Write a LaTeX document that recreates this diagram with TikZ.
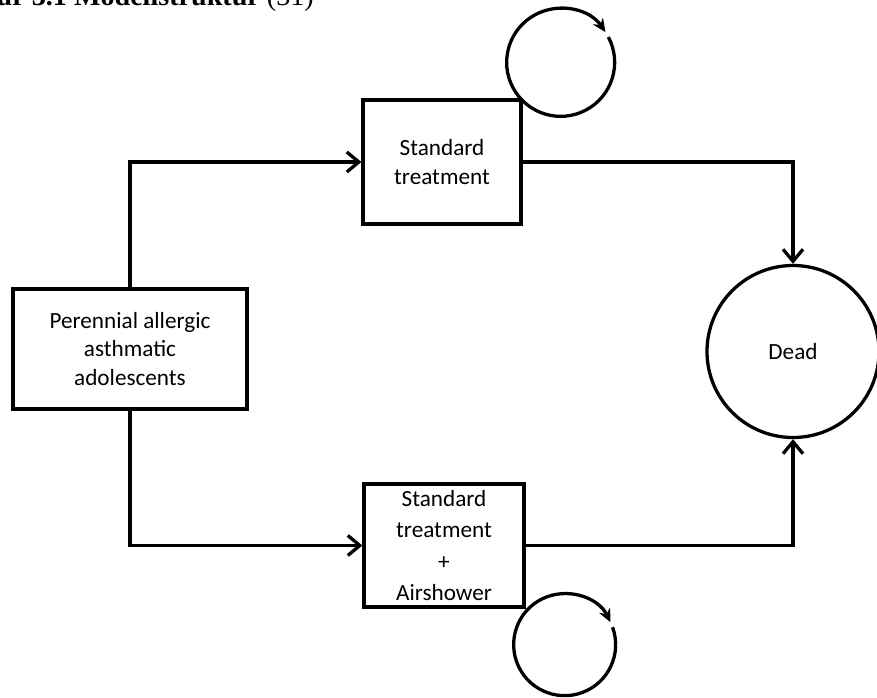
\documentclass[tikz,border=0pt]{standalone}
\usepackage{fontspec}
\setmainfont{Carlito}
\newfontfamily\capfont{Liberation Serif}
\usetikzlibrary{arrows.meta}

\begin{document}
\begin{tikzpicture}[x=0.03cm,y=0.03cm,
    state/.style={draw,line width=2.8pt,align=center,inner sep=0pt,
      font=\fontsize{19.8}{24}\selectfont},
    flow/.style={line width=2.8pt,-{Straight Barb[length=0.36cm,width=0.6cm]}},
    selfloop/.style={line width=2.8pt,-{Stealth[length=0.4cm,width=0.36cm]}}]
    \path[use as bounding box] (0,0) rectangle (877,697);
    \clip (0,0) rectangle (877,697);
%
    \node[anchor=base east,inner sep=0pt,font=\capfont\fontsize{24}{28}\selectfont] (caption) at (314,691) {\textbf{Figur 3.1 Modellstruktur} (31)};
%
    \node[state,minimum width=7.02cm,minimum height=3.6cm] (patients) at (130,348) {Perennial allergic\\asthmatic\\adolescents};
    \node[state,minimum width=4.74cm,minimum height=3.72cm] (standard) at (442,535) {Standard\\treatment};
    \node[state,minimum width=4.8cm,minimum height=3.69cm,font=\fontsize{19.8}{27}\selectfont] (airshower) at (444,151.5) {Standard\\treatment\\+\\Airshower};
    \node[state,circle,minimum size=5.16cm] (dead) at (793,345.5) {Dead};
%
    \coordinate (standardloop) at ([shift={(38,36)}]standard.north east);
    \coordinate (airshowerloop) at ([shift={(39,-36)}]airshower.south east);
%
    \draw[flow] (patients.north) |- (standard.west);
    \draw[flow] (patients.south) |- (airshower.west);
    \draw[flow] (standard.east) -| (dead.north);
    \draw[flow] (airshower.east) -| (dead.south);
%
    \draw[selfloop] ([shift={(28:54)}]standardloop) arc[start angle=28,end angle=-326,radius=54];
    \draw[selfloop] ([shift={(20:51)}]airshowerloop) arc[start angle=20,end angle=-334,radius=51];
\end{tikzpicture}
\end{document}
